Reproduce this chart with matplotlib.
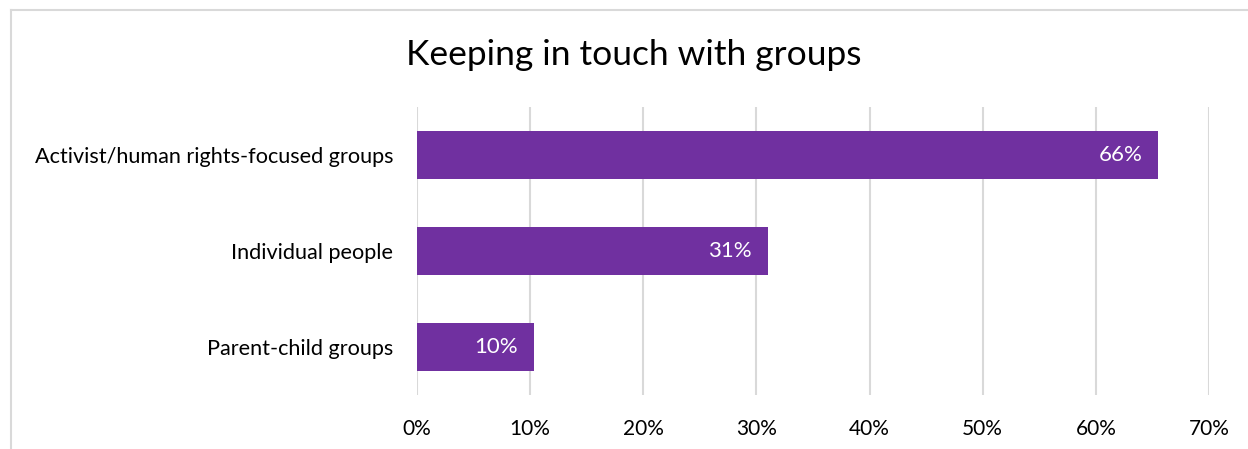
import matplotlib
matplotlib.use("Agg")
import matplotlib.pyplot as plt
from matplotlib.lines import Line2D
from matplotlib.ticker import FuncFormatter

# Survey shares, top-to-bottom order as shown
categories = ["Activist/human rights-focused groups", "Individual people", "Parent-child groups"]
shares = [0.655, 0.31, 0.103]
xticks = [0.0, 0.1, 0.2, 0.3, 0.4, 0.5, 0.6, 0.7]

PURPLE = "#7030A0"
GRID = "#d9d9d9"
FONT = ["Lato", "DejaVu Sans"]

plt.rcParams["font.family"] = FONT

W, H = 1248, 449
fig = plt.figure(figsize=(W / 100, H / 100), dpi=100, facecolor="white")
ax = fig.add_axes([417 / W, 1 - 395 / H, (1209 - 417) / W, (395 - 107) / H])

ypos = list(range(len(categories)))
ax.barh(ypos, shares, height=0.5, color=PURPLE, zorder=3)
for y, v in zip(ypos, shares):
    ax.text(v - 0.014, y, f"{round(v * 100):.0f}%", color="white",
            fontsize=16, ha="right", va="center", zorder=4)

ax.set_ylim(len(categories) - 0.5, -0.5)
ax.set_yticks(ypos)
ax.set_yticklabels(categories, fontsize=15.6)
ax.set_xlim(0, 0.7)
ax.set_xticks(xticks)
ax.xaxis.set_major_formatter(FuncFormatter(lambda v, _: f"{v * 100:.0f}%"))
ax.tick_params(axis="x", labelsize=15, length=0, pad=17)
ax.tick_params(axis="y", length=0, pad=17)
ax.grid(axis="x", color=GRID, linewidth=1.5, zorder=0)
for s in ax.spines.values():
    s.set_visible(False)

fig.text(634 / W, 1 - 55 / H, "Keeping in touch with groups", fontsize=25.5,
         ha="center", va="center", color="#000000")

# light frame along the top and left edges
bx, by = 10.5 / W, 1 - 9.5 / H
fig.add_artist(Line2D([bx, 1], [by, by], color=GRID, linewidth=1.5, transform=fig.transFigure))
fig.add_artist(Line2D([bx, bx], [0, by], color=GRID, linewidth=1.5, transform=fig.transFigure))

fig.savefig("out.png", dpi=100, facecolor="white")
